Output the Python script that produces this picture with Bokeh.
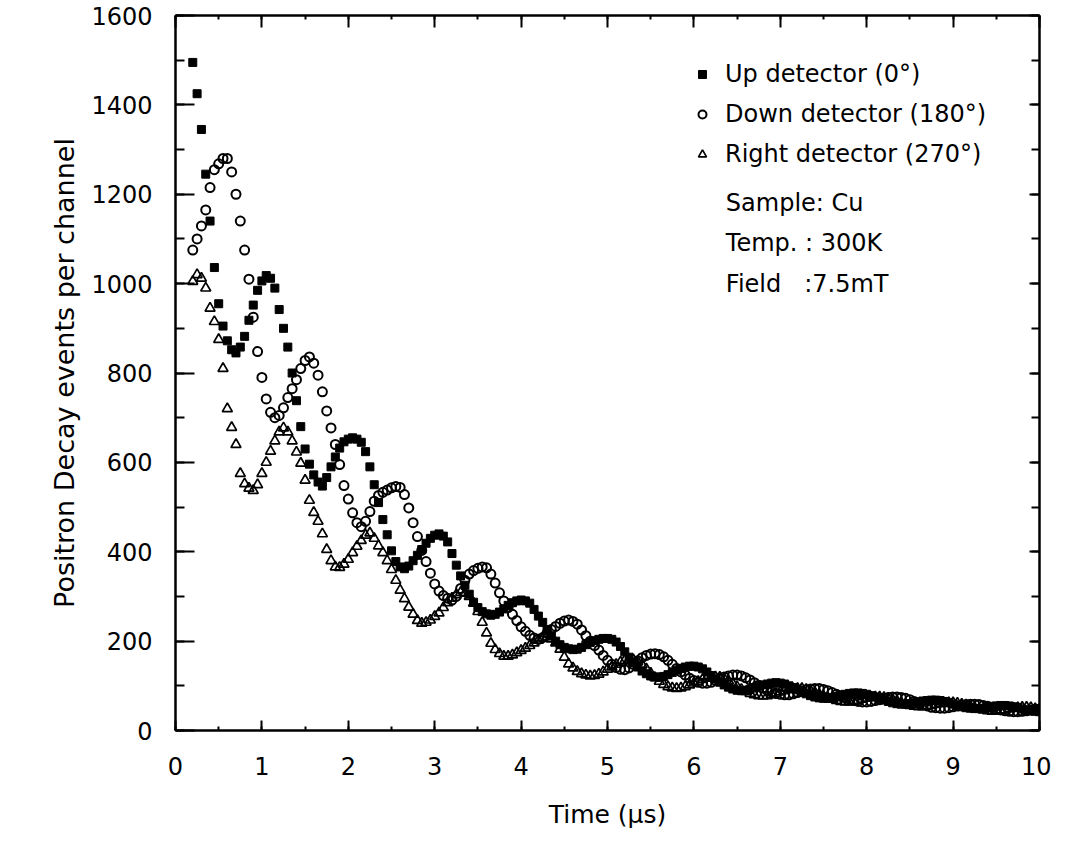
from bokeh.plotting import figure
from bokeh.models import (Range1d, LinearAxis, SingleIntervalTicker, Legend,
                          LegendItem, Label, CustomJSTickFormatter)
from bokeh.embed import file_html
from bokeh.resources import INLINE

# time channels (µs), 0.05 µs apart, from 0.20 to 10.00
time_us = [round(0.20 + 0.05 * i, 2) for i in range(197)]

# Up detector (0°)
up = [1495, 1425, 1345, 1245, 1140, 1036, 955, 905, 872, 852,
      845, 858, 882, 918, 952, 985, 1006, 1018, 1012, 990,
      942, 900, 858, 800, 738, 680, 630, 596, 572, 556,
      547, 566, 590, 612, 632, 646, 652, 655, 652, 645,
      624, 590, 550, 510, 472, 438, 402, 378, 366, 362,
      368, 380, 392, 405, 419, 430, 437, 440, 435, 422,
      396, 370, 346, 325, 305, 287, 275, 266, 261, 258,
      260, 265, 272, 280, 286, 290, 292, 290, 285, 271,
      256, 242, 226, 212, 200, 192, 186, 183, 181, 182,
      186, 192, 197, 201, 204, 206, 206, 204, 198, 188,
      176, 164, 152, 142, 133, 127, 122, 120, 119, 121,
      125, 130, 135, 139, 142, 144, 144, 142, 138, 131,
      123, 115, 108, 102, 97, 93, 90, 89, 90, 92,
      96, 99, 102, 104, 106, 107, 106, 104, 100, 96,
      91, 86, 82, 78, 75, 73, 72, 72, 74, 76,
      79, 81, 83, 84, 84, 83, 81, 78, 75, 71,
      68, 65, 62, 60, 59, 59, 60, 62, 64, 66,
      67, 68, 68, 67, 65, 62, 59, 56, 53, 51,
      50, 49, 49, 50, 52, 54, 55, 56, 56, 55,
      53, 51, 48, 46, 44, 43, 42]

# Down detector (180°)
down = [1075, 1100, 1129, 1165, 1215, 1255, 1268, 1280, 1280, 1250,
        1200, 1140, 1075, 1010, 925, 848, 790, 742, 712, 700,
        705, 722, 745, 765, 785, 810, 828, 836, 822, 795,
        758, 715, 677, 640, 595, 548, 518, 487, 465, 456,
        468, 490, 513, 526, 533, 538, 543, 546, 544, 528,
        498, 465, 434, 403, 378, 352, 328, 312, 302, 296,
        292, 300, 318, 336, 350, 358, 363, 366, 364, 350,
        330, 308, 290, 275, 260, 246, 232, 222, 213, 207,
        204, 208, 218, 226, 233, 240, 245, 247, 244, 238,
        225, 212, 200, 190, 180, 168, 157, 148, 141, 137,
        136, 140, 148, 156, 163, 168, 171, 172, 170, 165,
        157, 148, 139, 131, 124, 117, 112, 108, 106, 106,
        108, 112, 116, 120, 122, 124, 124, 122, 118, 113,
        107, 101, 95, 90, 86, 83, 81, 80, 80, 82,
        85, 88, 91, 93, 94, 94, 92, 89, 85, 81,
        77, 73, 70, 67, 65, 64, 64, 65, 67, 69,
        72, 74, 75, 75, 74, 72, 69, 65, 61, 58,
        55, 52, 51, 50, 50, 51, 53, 55, 57, 58,
        59, 59, 58, 56, 54, 51, 48, 46, 44, 43,
        42, 42, 43, 44, 46, 47, 48]

# Right detector (270°)
right = [1005, 1020, 1012, 990, 945, 915, 875, 810, 720, 678,
         640, 575, 552, 542, 537, 550, 575, 600, 625, 648,
         668, 677, 668, 648, 623, 598, 560, 515, 488, 468,
         440, 405, 380, 366, 365, 372, 383, 398, 412, 425,
         437, 442, 430, 413, 398, 380, 360, 336, 314, 295,
         276, 260, 246, 240, 242, 247, 255, 263, 275, 286,
         296, 304, 309, 307, 300, 285, 266, 242, 218, 195,
         181, 172, 166, 166, 169, 174, 179, 184, 190, 196,
         202, 207, 210, 205, 196, 182, 164, 149, 140, 132,
         127, 124, 122, 123, 126, 131, 137, 142, 148, 153,
         157, 159, 158, 154, 147, 138, 128, 118, 110, 103,
         98, 95, 94, 95, 98, 102, 106, 110, 114, 117,
         119, 120, 119, 116, 111, 105, 98, 92, 87, 83,
         80, 78, 77, 78, 80, 83, 86, 89, 91, 93,
         94, 94, 92, 89, 85, 81, 77, 73, 70, 67,
         65, 64, 64, 65, 67, 70, 72, 74, 75, 75,
         74, 72, 69, 66, 62, 59, 56, 54, 53, 53,
         54, 56, 58, 60, 61, 62, 62, 61, 59, 57,
         54, 51, 48, 46, 44, 43, 43, 44, 46, 48,
         50, 51, 52, 52, 51, 49, 47]

series_labels = ["Up detector (0°)", "Down detector (180°)", "Right detector (270°)"]
info_lines = ["Sample: Cu", "Temp. : 300K", "Field\u00a0\u00a0\u00a0:7.5mT"]
info_y = [1180, 1090, 1000]
info_x = 6.37

FONT = "DejaVu Sans"

p = figure(frame_width=864, frame_height=715,
           min_border_left=175, min_border_right=12,
           min_border_top=15, min_border_bottom=113,
           x_range=Range1d(0, 10), y_range=Range1d(0, 1600),
           x_axis_location=None, y_axis_location=None,
           output_backend="svg", toolbar_location=None)
p.outline_line_color = None
p.xgrid.visible = False
p.ygrid.visible = False
p.background_fill_color = "white"
p.border_fill_color = "white"


def style_axis(ax, major_in, minor_in, labels=True):
    ax.axis_line_width = 2.5
    ax.axis_line_color = "black"
    ax.major_tick_in = major_in
    ax.major_tick_out = 0
    ax.minor_tick_in = minor_in
    ax.minor_tick_out = 0
    ax.major_tick_line_width = 2
    ax.minor_tick_line_width = 2
    ax.major_tick_line_color = "black"
    ax.minor_tick_line_color = "black"
    ax.major_label_text_font = FONT
    ax.major_label_text_font_size = "24px"
    ax.major_label_text_color = "black"
    if not labels:
        ax.formatter = CustomJSTickFormatter(code="return ''")
        ax.major_label_standoff = 0


xt = SingleIntervalTicker(interval=1, num_minor_ticks=2)
yt = SingleIntervalTicker(interval=200, num_minor_ticks=2)

bottom = LinearAxis(ticker=xt, axis_label="Time (µs)")
style_axis(bottom, 10, 4)
bottom.major_label_standoff = 26
bottom.axis_label_text_font = FONT
bottom.axis_label_text_font_size = "25px"
bottom.axis_label_text_font_style = "normal"
bottom.axis_label_text_color = "black"
bottom.axis_label_standoff = 22
p.add_layout(bottom, "below")

left = LinearAxis(ticker=yt, axis_label="Positron Decay events per channel")
style_axis(left, 19, 9)
left.major_label_standoff = 23
left.axis_label_text_font = FONT
left.axis_label_text_font_size = "27px"
left.axis_label_text_font_style = "normal"
left.axis_label_text_color = "black"
left.axis_label_standoff = 8
p.add_layout(left, "left")

top = LinearAxis(ticker=SingleIntervalTicker(interval=1, num_minor_ticks=2))
style_axis(top, 12, 4, labels=False)
p.add_layout(top, "above")

rax = LinearAxis(ticker=SingleIntervalTicker(interval=200, num_minor_ticks=2))
style_axis(rax, 10, 8, labels=False)
p.add_layout(rax, "right")

r_up = p.scatter(time_us, up, marker="square", size=8,
                 fill_color="black", line_color="black", line_width=1)
r_dn = p.scatter(time_us, down, marker="circle", size=9,
                 fill_color=None, line_color="black", line_width=2)
r_rt = p.scatter(time_us, right, marker="triangle", size=10,
                 fill_color=None, line_color="black", line_width=1.7)

legend = Legend(items=[LegendItem(label=series_labels[0], renderers=[r_up]),
                       LegendItem(label=series_labels[1], renderers=[r_dn]),
                       LegendItem(label=series_labels[2], renderers=[r_rt])],
                location=(517, 556))
legend.label_text_font = FONT
legend.label_text_font_size = "24px"
legend.label_text_color = "black"
legend.label_height = 40
legend.glyph_height = 40
legend.glyph_width = 20
legend.label_standoff = 13
legend.spacing = 0
legend.padding = 0
legend.margin = 0
legend.border_line_color = None
legend.background_fill_alpha = 0
p.add_layout(legend)

for txt, yy in zip(info_lines, info_y):
    p.add_layout(Label(x=info_x, y=yy, text=txt, text_font=FONT,
                       text_font_size="24px", text_color="black",
                       text_baseline="alphabetic"))

open("out.html", "w").write(file_html(p, INLINE))
